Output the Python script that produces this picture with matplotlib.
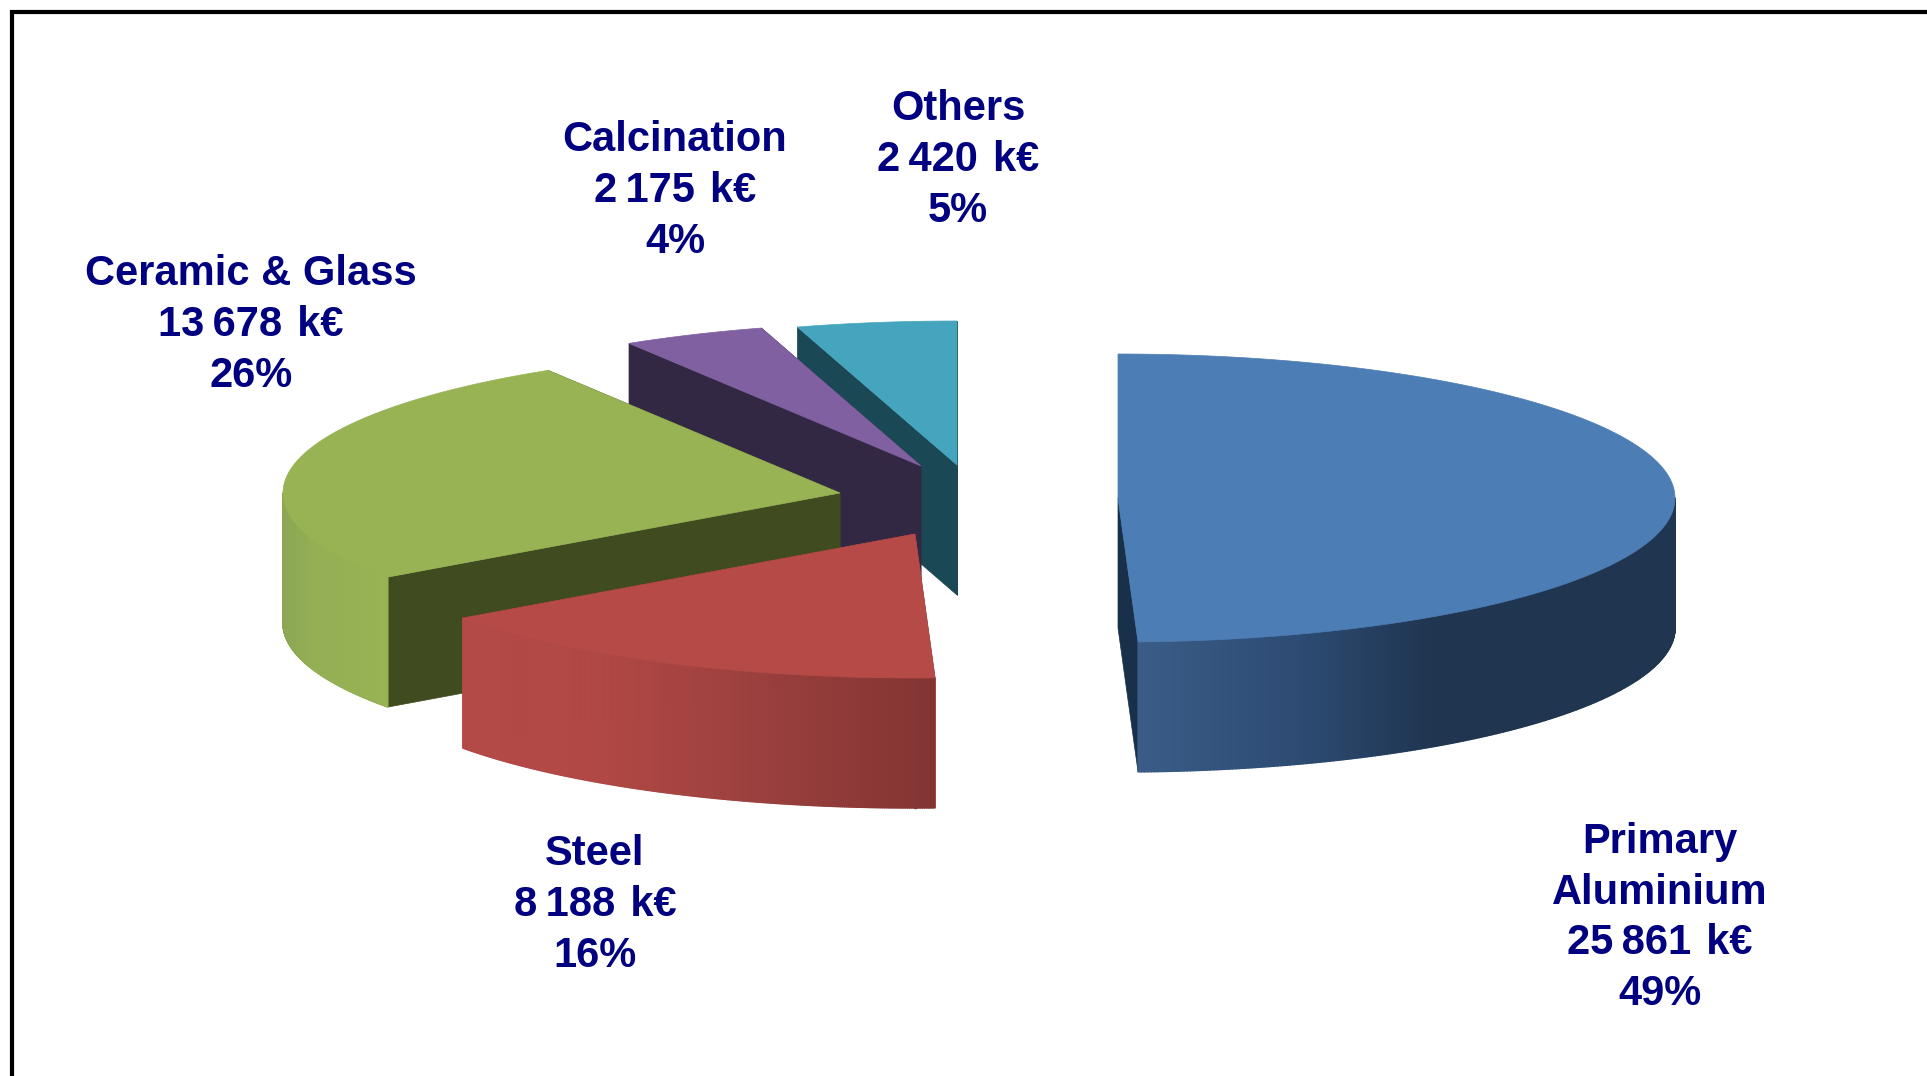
import numpy as np
import matplotlib
matplotlib.use("Agg")
import matplotlib.pyplot as plt
from matplotlib.collections import PolyCollection

plt.rcParams['font.family'] = ['Liberation Sans', 'DejaVu Sans']

# Data
names = ["Primary\nAluminium", "Steel", "Ceramic & Glass", "Calcination", "Others"]
values = [25861, 8188, 13678, 2175, 2420]

# Where each exploded slice sits (pixels)
apex_x = [1118, 915, 840, 921, 957]
apex_y = [498, 534, 493, 466, 465]
label_x = [1660, 595, 251, 675, 958]
label_y = [918, 905, 325, 191, 160]

# Colours
top_colors = ["#4c7db5", "#b54a47", "#98b354", "#8060a0", "#46a5be"]
cut_colors = ["#19304b", "#7e3534", "#404b20", "#322844", "#1b4855"]
wall_stops = [
    [(0.0, "#3a5c86"), (0.3, "#2d4b73"), (0.55, "#1f3550"), (1.0, "#1f3550")],
    [(0.0, "#b44a47"), (0.3, "#b04845"), (0.55, "#a04240"), (0.8, "#8f3b39"), (1.0, "#823432")],
    [(0.0, "#8ca653"), (0.3, "#94af54"), (1.0, "#98b354")],
    [(0.0, "#6b5087"), (1.0, "#6b5087")],
    [(0.0, "#3a8aa0"), (1.0, "#3a8aa0")],
]

rx = 557
ry = 144
depth = 130
text_color = "#000080"


def rim(cx, cy, t):
    t = np.radians(t)
    return cx + rx * np.sin(t), cy - ry * np.cos(t)


def hex_rgb(c):
    return np.array(matplotlib.colors.to_rgb(c))


def wall_color(stops, f):
    pos = [s[0] for s in stops]
    rgb = np.array([hex_rgb(s[1]) for s in stops])
    return [np.interp(f, pos, rgb[:, k]) for k in range(3)]


fig = plt.figure(figsize=(19.27, 10.76), dpi=100)
ax = fig.add_axes([0, 0, 1, 1])
ax.set_xlim(0, 1927)
ax.set_ylim(1076, 0)
ax.axis("off")

# frame, open on the right and at the bottom
ax.plot([12, 12, 1927], [1076, 12, 12], color="black", lw=3, solid_joinstyle="miter")

# slice angles, clockwise from 12 o'clock
total = sum(values)
edges = np.concatenate([[0], np.cumsum(values) / total * 360])

# back slices first, so the front ones overlap them
for i in [4, 3, 2, 1, 0]:
    cx, cy = apex_x[i], apex_y[i]
    start, end = edges[i], edges[i + 1]

    # cut faces
    for t in (start, end):
        x, y = rim(cx, cy, t)
        ax.fill([cx, x, x, cx], [cy, y, y + depth, cy + depth],
                color=cut_colors[i], lw=0.5, zorder=2 + (4 - i) * 3)

    # outer wall, only the part facing the viewer
    a, b = max(start, 90), min(end, 270)
    if b > a:
        ts = np.linspace(a, b, 260)
        xs, ys = rim(cx, cy, ts)
        polys = []
        cols = []
        for k in range(len(ts) - 1):
            polys.append([(xs[k], ys[k]), (xs[k + 1], ys[k + 1]),
                          (xs[k + 1], ys[k + 1] + depth), (xs[k], ys[k] + depth)])
            f = (0.5 * (xs[k] + xs[k + 1]) - xs.min()) / (xs.max() - xs.min())
            cols.append(wall_color(wall_stops[i], f))
        ax.add_collection(PolyCollection(polys, facecolors=cols, edgecolors=cols,
                                         linewidths=1.0, zorder=3 + (4 - i) * 3))

    # top surface
    ts = np.linspace(start, end, 200)
    xs, ys = rim(cx, cy, ts)
    ax.fill(np.r_[cx, xs], np.r_[cy, ys], color=top_colors[i], lw=0.5,
            zorder=4 + (4 - i) * 3)

    # label
    share = round(values[i] / total * 100)
    amount = f"{values[i]:,}".replace(",", "\u2009")
    ax.text(label_x[i], label_y[i], f"{names[i]}\n{amount} \u200ak€\n{share}%",
            ha="center", va="center", multialignment="center", color=text_color,
            fontsize=30, fontweight="bold", linespacing=1.35, zorder=30)

fig.savefig("out.png", dpi=100)
